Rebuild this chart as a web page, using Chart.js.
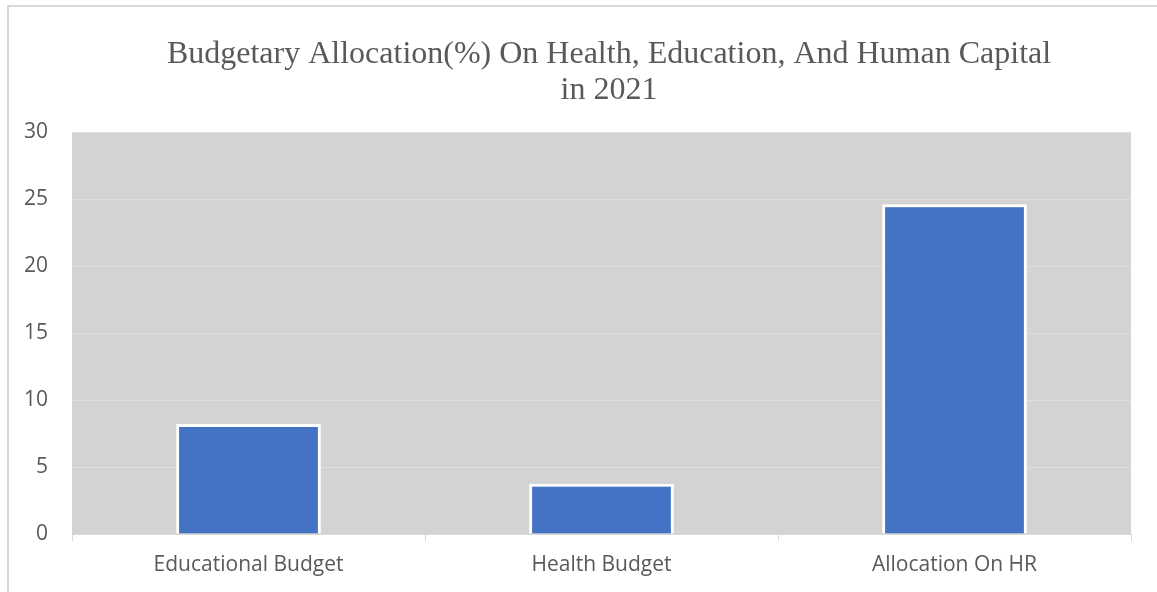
<!DOCTYPE html>
<html>
<head>
<meta charset="utf-8">
<title>Budgetary Allocation</title>
<script src="https://cdn.jsdelivr.net/npm/chart.js@4"></script>
<style>
  html, body { margin: 0; padding: 0; background: #fff; overflow: hidden; }
  .frame { position: absolute; left: 7px; top: 5px; width: 1160px; height: 600px; border-left: 2px solid #d9d9d9; border-top: 2px solid #d9d9d9; }
  #budgetChart { position: absolute; left: 0; top: 0; }
</style>
</head>
<body>
<div class="frame"></div>
<!-- canvas runs past the right edge so the title centres where the original does -->
<canvas id="budgetChart" width="1218" height="592"></canvas>
<script>
var categories = ["Educational Budget", "Health Budget", "Allocation On HR"];
var allocationValues = [8.2, 3.75, 24.6];
var titleLines = ["Budgetary Allocation(%) On Health, Education, And Human Capital", "in 2021"];

var plotBackground = {
  id: "plotBackground",
  beforeDraw: function (chart) {
    var area = chart.chartArea;
    var ctx = chart.ctx;
    ctx.save();
    ctx.fillStyle = "#d3d3d3";
    ctx.fillRect(area.left, area.top, area.right - area.left, area.bottom - area.top);
    ctx.restore();
  }
};

document.addEventListener("DOMContentLoaded", function () {
  initBudgetChart();
});

function initBudgetChart() {
  var el = document.getElementById("budgetChart");
  if (!el || !window.Chart) return;
  var labelFont = { family: "'Open Sans', 'Liberation Sans', sans-serif", size: 21 };

  new Chart(el, {
    type: "bar",
    data: {
      labels: categories,
      datasets: [{
        label: "Allocation (%)",
        data: allocationValues,
        backgroundColor: "#4472c4",
        borderColor: "#ffffff",
        borderWidth: 3,
        barPercentage: 0.41,
        categoryPercentage: 1
      }]
    },
    options: {
      responsive: false,
      animation: false,
      layout: { padding: 0 },
      plugins: {
        legend: { display: false },
        tooltip: { enabled: false },
        title: {
          display: true,
          text: titleLines,
          color: "#595959",
          font: { family: "'Liberation Serif', 'Times New Roman', serif", size: 32, weight: "normal", lineHeight: 1.125 },
          padding: { top: 37, bottom: 23 }
        }
      },
      scales: {
        x: {
          grid: { drawOnChartArea: false, drawTicks: true, tickLength: 7, color: "#d9d9d9", offset: true },
          border: { display: true, color: "#d9d9d9", width: 1 },
          ticks: { color: "#595959", font: labelFont, padding: 11, maxRotation: 0 },
          afterFit: function (scale) { scale.height = 58; }
        },
        y: {
          min: 0,
          max: 30,
          ticks: { stepSize: 5, color: "#595959", font: labelFont, padding: 24 },
          grid: { color: "#dedede", drawTicks: false },
          border: { display: false },
          afterFit: function (scale) { scale.width = 72; }
        },
        yRight: {
          position: "right",
          min: 0,
          max: 30,
          ticks: { display: false },
          grid: { display: false },
          border: { display: false },
          afterFit: function (scale) { scale.width = 87; }
        }
      }
    },
    plugins: [plotBackground]
  });
}
</script>
</body>
</html>
